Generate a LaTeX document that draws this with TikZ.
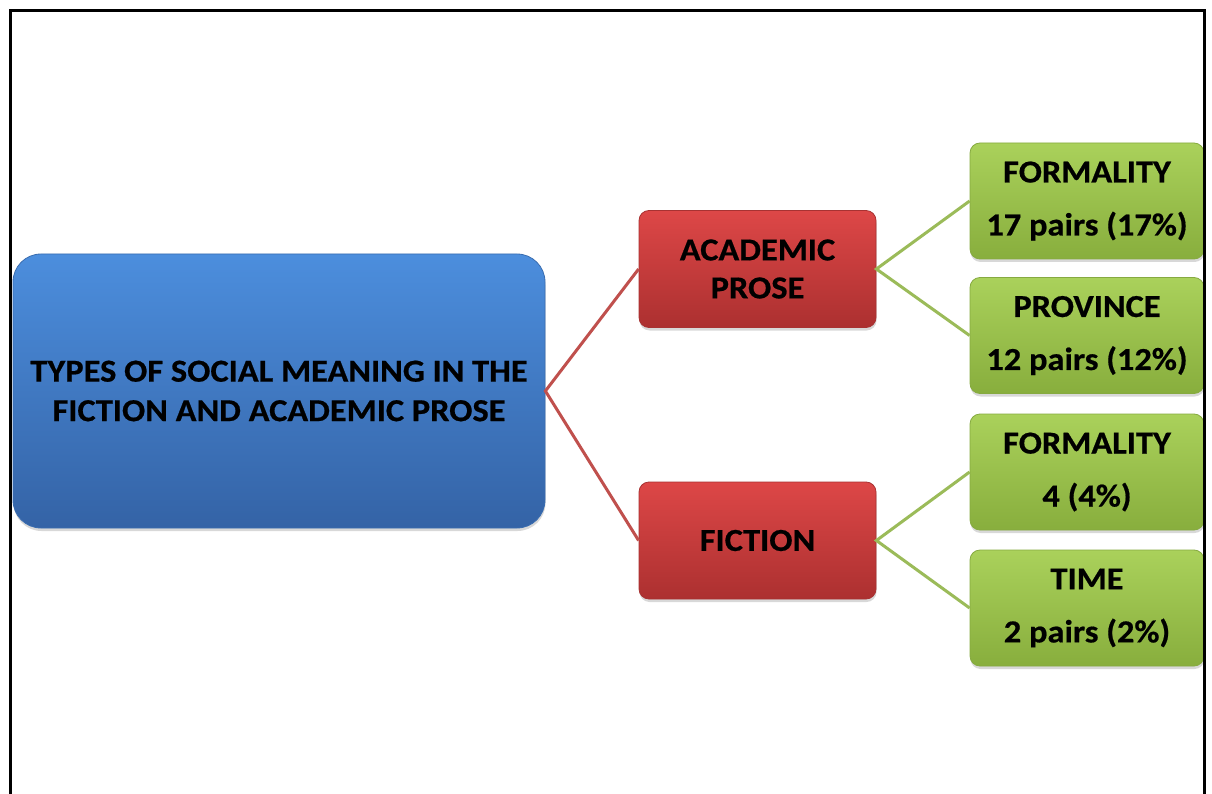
\documentclass[tikz,border=0pt]{standalone}
\usepackage{fontspec}
\setmainfont{Carlito}[BoldFeatures={FakeStretch=1.075,FakeBold=0.6}]
\usetikzlibrary{shadows}
\definecolor{bluetop}{HTML}{4C8EDD}
\definecolor{bluebot}{HTML}{3463A6}
\definecolor{blueedge}{HTML}{3A6DB0}
\definecolor{redtop}{HTML}{DD4747}
\definecolor{redbot}{HTML}{AC3030}
\definecolor{rededge}{HTML}{A83232}
\definecolor{greentop}{HTML}{AAD15B}
\definecolor{greenbot}{HTML}{88AE3D}
\definecolor{greenedge}{HTML}{86AA40}
\definecolor{redline}{HTML}{C0504D}
\definecolor{greenline}{HTML}{9BBB59}
\begin{document}
\begin{tikzpicture}[x=1pt,y=-1pt,
  box/.style={align=center, inner sep=0pt, text=black, line width=0.8pt,
    drop shadow={opacity=0.3, shadow xshift=0.5pt, shadow yshift=-3pt}},
  rootbox/.style={box, rounded corners=28pt, draw=blueedge,
    top color=bluetop, bottom color=bluebot,
    minimum width=532pt, minimum height=274pt,
    font=\fontsize{32}{39.5}\selectfont\bfseries},
  midbox/.style={box, rounded corners=10pt, draw=rededge,
    top color=redtop, bottom color=redbot,
    minimum width=237pt, minimum height=117pt,
    font=\fontsize{32}{38}\selectfont\bfseries},
  leafbox/.style={box, rounded corners=10pt, draw=greenedge,
    top color=greentop, bottom color=greenbot,
    minimum width=234pt, minimum height=116pt,
    font=\fontsize{32}{53}\selectfont\bfseries},
  redlink/.style={draw=redline, line width=3pt},
  greenlink/.style={draw=greenline, line width=3pt},
  frameline/.style={draw=black, line width=3pt}
]
\useasboundingbox (0,0) rectangle (1212,794);
\fill[white] (0,0) rectangle (1212,794);

\node[rootbox] (root) at (279,391) {TYPES OF SOCIAL MEANING IN THE\\FICTION AND ACADEMIC PROSE};

\node[midbox] (acad) at (757.5,269) {ACADEMIC\\PROSE};
\node[midbox] (fict) at (757.5,540.5) {FICTION};

\node[leafbox] (f1) at (1087,201) {FORMALITY\\17 pairs (17\%)};
\node[leafbox] (p1) at (1087,335.5) {PROVINCE\\12 pairs (12\%)};
\node[leafbox] (f2) at (1087,472) {FORMALITY\\4 (4\%)};
\node[leafbox] (t2) at (1087,608) {TIME\\2 pairs (2\%)};

\draw[redlink] (acad.west) -- (root.east) -- (fict.west);
\draw[greenlink] (f1.west) -- (acad.east) -- (p1.west);
\draw[greenlink] (f2.west) -- (fict.east) -- (t2.west);

\coordinate (fbl) at (10.8,794);
\coordinate (ftl) at (10.8,11);
\coordinate (ftr) at (1204,11);
\coordinate (fbr) at (1204,794);
\draw[frameline] (fbl) -- (ftl) -- (ftr) -- (fbr);
\end{tikzpicture}
\end{document}
